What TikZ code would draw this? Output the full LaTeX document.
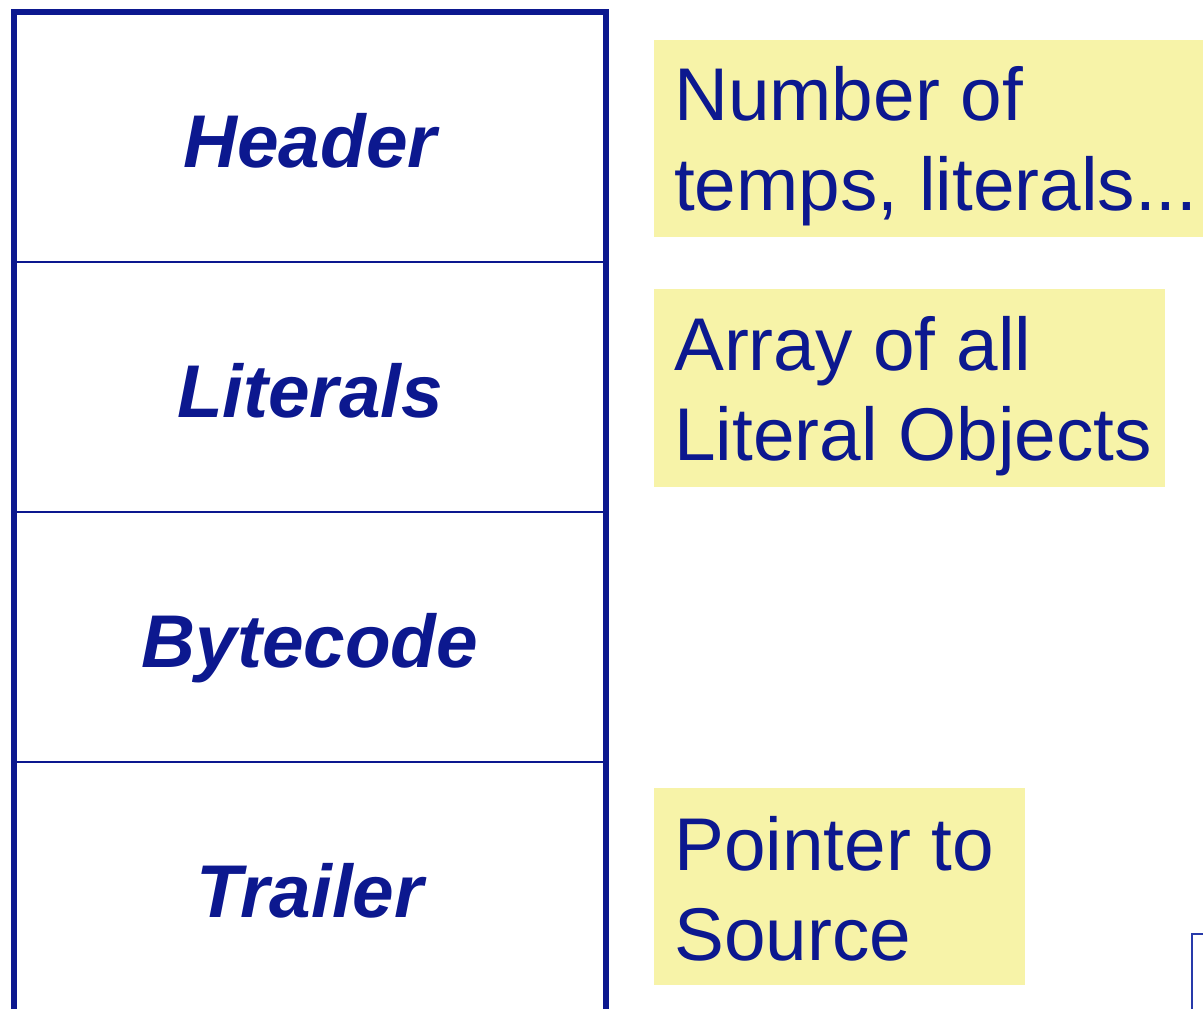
\documentclass[tikz,border=0pt]{standalone}
\usepackage{fontspec}
\setmainfont{Liberation Sans}
\definecolor{ink}{RGB}{12,24,143}
\definecolor{notefill}{RGB}{247,243,168}
\definecolor{framelight}{RGB}{40,58,170}
\begin{document}
\begin{tikzpicture}[x=1bp,y=-1bp,
  frame/.style={draw=ink,line width=6bp},
  divider/.style={draw=ink,line width=2.6bp},
  part/.style={anchor=base,text=ink,inner sep=0pt,
    font=\fontsize{75}{90}\selectfont\bfseries\itshape},
  note/.style={fill=notefill},
  noteline/.style={anchor=base west,text=ink,inner sep=0pt,
    font=\fontsize{75}{90}\selectfont}]
\useasboundingbox (0,0) rectangle (1203,1009);
\clip (0,0) rectangle (1203,1009);

% method layout: a tall column split into four parts
\draw[frame] (14,1030) -- (14,12) -- (606,12) -- (606,1030);
\draw[divider] (15,262) -- (605,262);
\draw[divider] (15,512) -- (605,512);
\draw[divider] (15,762) -- (605,762);

\node[part] (header)   at (310,167) {Header};
\node[part] (literals) at (310,417) {Literals};
\node[part] (bytecode) at (310,667) {Bytecode};
\node[part] (trailer)  at (310,917) {Trailer};

% notes beside the parts
\fill[note] (654,40) rectangle (1215,237);
\node[noteline] (n1a) at (674,120) {Number of};
\node[noteline] (n1b) at (674,210) {temps, literals...};

\fill[note] (654,289) rectangle (1165,487);
\node[noteline] (n2a) at (674,370) {Array of all};
\node[noteline] (n2b) at (674,460) {Literal Objects};

\fill[note] (654,788) rectangle (1025,985);
\node[noteline] (n3a) at (674,870) {Pointer to};
\node[noteline] (n3b) at (674,960) {Source};

% corner of the next box, entering at the lower right
\draw[draw=framelight,line width=2.4bp] (1192,1030) -- (1192,934) -- (1230,934);
\end{tikzpicture}
\end{document}
